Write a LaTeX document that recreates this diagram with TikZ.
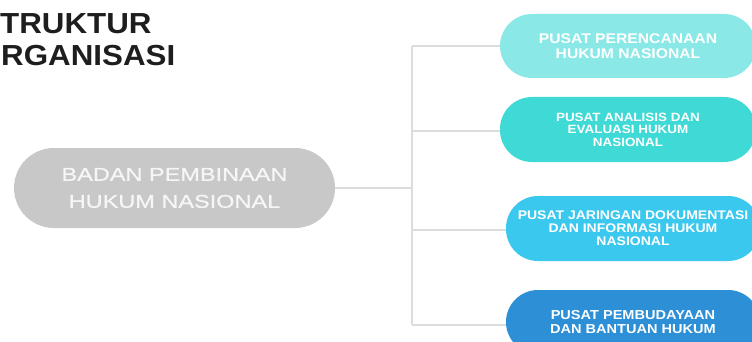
\documentclass[tikz,border=0pt]{standalone}
\usepackage{fontspec}
\setmainfont{Liberation Sans}
\newfontfamily\wbold{Liberation Sans}[FakeStretch=1.12, UprightFont={* Bold}]
\newfontfamily\wtitle{Liberation Sans}[FakeStretch=1.08, UprightFont={* Bold}]
\newfontfamily\wreg{Liberation Sans}[FakeStretch=1.27, FakeBold=0.8]
\definecolor{maingray}{HTML}{C8C8C8}
\definecolor{maintext}{HTML}{F6F6F6}
\definecolor{cA}{HTML}{8AE9E7}
\definecolor{cB}{HTML}{3FD9D6}
\definecolor{cC}{HTML}{3BC8EE}
\definecolor{cD}{HTML}{2D8FD5}
\definecolor{linegray}{HTML}{DCDCDC}
\definecolor{titlecol}{HTML}{1E1E1E}
\tikzset{
  pill/.style={rectangle, rounded corners=32pt, minimum height=64pt, inner sep=0pt,
    align=center, text=white},
  conn/.style={draw=linegray, line width=1.5pt},
  titletext/.style={anchor=base west, inner sep=0pt, text=titlecol,
    font={\wtitle\fontsize{29}{30}\selectfont}}
}
\begin{document}
\begin{tikzpicture}[x=1pt,y=-1pt]
\useasboundingbox (0,0) rectangle (752,342);
% title
\node[titletext] (t1) at (0,34) {TRUKTUR};
\node[titletext] (t2) at (1,66) {RGANISASI};
% main node
\node[rectangle, rounded corners=40pt, fill=maingray, minimum width=321pt, minimum height=80pt,
  inner sep=0pt, align=center, text=maintext,
  font={\wreg\fontsize{18.5}{27}\selectfont}] (main) at (174.5,188) {BADAN PEMBINAAN\\HUKUM NASIONAL};
% boxes
\node[pill, fill=cA, minimum width=256pt, font={\wbold\fontsize{14}{15}\selectfont}] (b1) at (628,46)
  {PUSAT PERENCANAAN\\HUKUM NASIONAL};
\node[pill, fill=cB, minimum width=256pt, minimum height=65pt, font={\wbold\fontsize{12}{12.5}\selectfont}] (b2) at (628,129.5)
  {PUSAT ANALISIS DAN\\EVALUASI HUKUM\\NASIONAL};
\node[pill, fill=cC, minimum width=254pt, minimum height=65pt, font={\wbold\fontsize{12.5}{13}\selectfont}] (b3) at (633,228.5)
  {PUSAT JARINGAN DOKUMENTASI\\DAN INFORMASI HUKUM\\NASIONAL};
\node[pill, fill=cD, minimum width=254pt, font={\wbold\fontsize{13}{14}\selectfont}] (b4) at (633,322)
  {PUSAT PEMBUDAYAAN\\DAN BANTUAN HUKUM};
% connectors
\coordinate (hub) at (412,188);
\coordinate (j1) at (412,46);
\coordinate (j2) at (412,131);
\coordinate (j3) at (412,230);
\coordinate (j4) at (412,325);
\draw[conn] (main.east) -- (hub);
\draw[conn] (j1) -- (j4);
\draw[conn] (j1) -- (b1.west);
\draw[conn] (j2) -- (j2 -| b2.west);
\draw[conn] (j3) -- (j3 -| b3.west);
\draw[conn] (j4) -- (j4 -| b4.west);
\end{tikzpicture}
\end{document}
